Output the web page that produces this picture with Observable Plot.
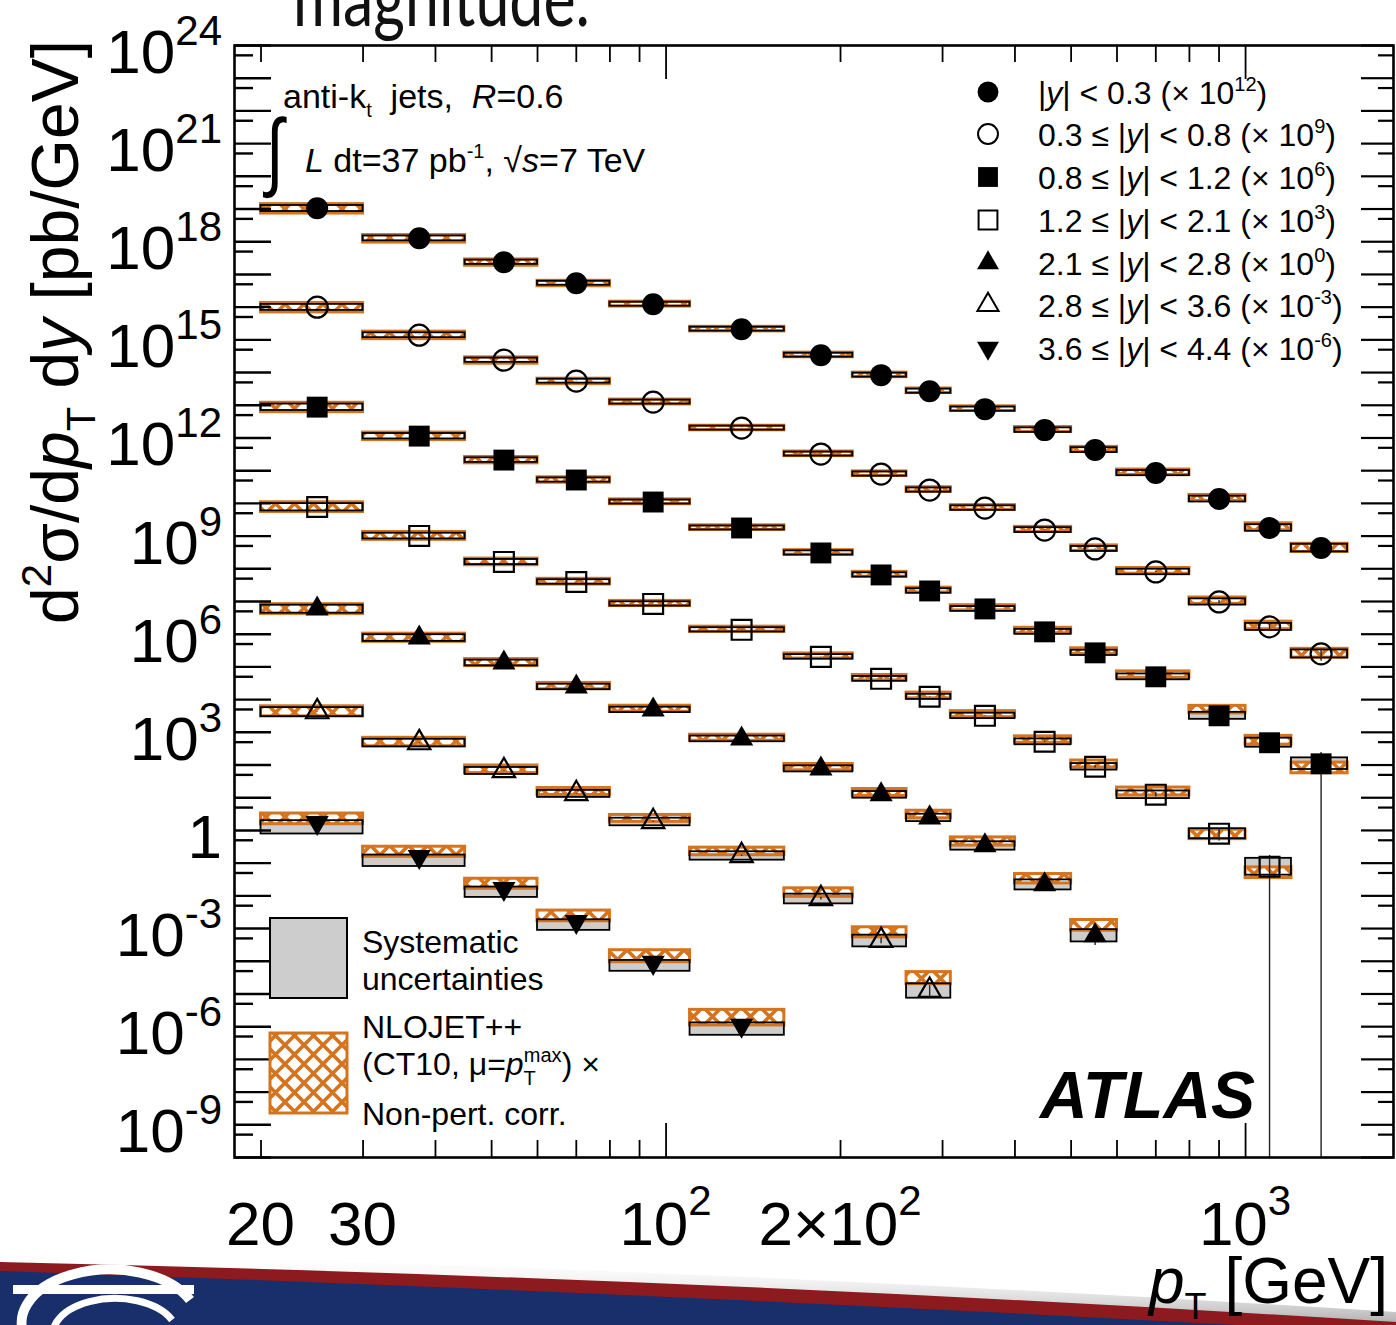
<!DOCTYPE html>
<html>
<head>
<meta charset="utf-8">
<script src="https://cdn.jsdelivr.net/npm/d3@7"></script>
<script src="https://cdn.jsdelivr.net/npm/@observablehq/plot@0.6"></script>
<style>
  html, body { margin: 0; padding: 0; background: #fff; }
  #chart { position: relative; width: 1396px; height: 1325px; overflow: hidden; }
  #chart svg { display: block; font-family: "Liberation Sans", Arial, Helvetica, sans-serif; }
</style>
</head>
<body>
<div id="chart"></div>
<script>
// ---- jet pT bins [GeV] ----
const binLow  = [20, 30, 45, 60, 80, 110, 160, 210, 260, 310, 400, 500, 600, 800, 1000, 1200];
const binHigh = [30, 45, 60, 80, 110, 160, 210, 260, 310, 400, 500, 600, 800, 1000, 1200, 1500];

// ---- rapidity slices, plotting offsets ----
const sliceRange   = [["", "0.3"], ["0.3", "0.8"], ["0.8", "1.2"], ["1.2", "2.1"], ["2.1", "2.8"], ["2.8", "3.6"], ["3.6", "4.4"]];
const sliceExp     = [12, 9, 6, 3, 0, -3, -6];

// ---- measured d2sigma/dpT dy [pb/GeV] per slice (unscaled) ----
const xsY00 = [1.05e7, 1.27e6, 2.36e5, 5.38e4, 1.23e4, 2.12e3, 340, 83.4, 27.0, 7.62, 1.74, 0.427, 0.0845, 0.0136, 1.77e-3, 4.33e-4];
const xsY03 = [9.95e6, 1.39e6, 2.39e5, 5.46e4, 1.25e4, 2.0e3, 322, 78.9, 25.6, 7.21, 1.53, 0.404, 0.0802, 9.7e-3, 1.67e-3, 2.5e-4];
const xsY08 = [8.77e6, 1.14e6, 2.11e5, 5.18e4, 1.10e4, 1.77e3, 305, 64.9, 21.0, 5.93, 1.18, 0.269, 0.0498, 3.2e-3, 4.8e-4, 1.09e-4];
const xsY12 = [7.74e6, 1.01e6, 1.62e5, 3.96e4, 8.43e3, 1.36e3, 203, 43.2, 12.2, 3.2, 0.514, 0.0887, 0.0124, 7.96e-4, 7.8e-5];
const xsY21 = [5.93e6, 7.73e5, 1.33e5, 2.46e4, 4.89e3, 635, 76.9, 12.4, 2.45, 0.342, 0.022, 6.1e-4];
const xsY28 = [4.24e6, 4.79e5, 6.68e4, 1.33e4, 1.85e3, 169, 8.24, 0.43, 0.0128];
const xsY36 = [1.73e6, 1.58e5, 1.66e4, 1.63e3, 91.4, 1.09];

// ---- relative statistical uncertainties ----
const statY00 = [0.01, 0.01, 0.01, 0.01, 0.01, 0.01, 0.01, 0.01, 0.01, 0.01, 0.01, 0.02, 0.03, 0.08, 0.2, 0.3];
const statY03 = [0.01, 0.01, 0.01, 0.01, 0.01, 0.01, 0.01, 0.01, 0.01, 0.01, 0.02, 0.02, 0.04, 0.1, 0.25, 0.4];
const statY08 = [0.01, 0.01, 0.01, 0.01, 0.01, 0.01, 0.01, 0.01, 0.01, 0.02, 0.02, 0.03, 0.06, 0.2, 0.5, 1.2];
const statY12 = [0.01, 0.01, 0.01, 0.01, 0.01, 0.01, 0.01, 0.02, 0.02, 0.02, 0.04, 0.08, 0.15, 0.4, 1.2];
const statY21 = [0.01, 0.01, 0.01, 0.01, 0.01, 0.02, 0.03, 0.05, 0.08, 0.1, 0.2, 0.5];
const statY28 = [0.02, 0.02, 0.02, 0.02, 0.03, 0.05, 0.1, 0.2, 0.4];
const statY36 = [0.03, 0.03, 0.04, 0.05, 0.1, 0.3];

// ---- relative systematic uncertainties (up / down) ----
const sysUpY00 = [0.22, 0.18, 0.16, 0.15, 0.15, 0.15, 0.15, 0.15, 0.16, 0.16, 0.17, 0.18, 0.20, 0.22, 0.26, 0.30];
const sysDnY00 = [0.20, 0.16, 0.14, 0.13, 0.13, 0.13, 0.13, 0.13, 0.14, 0.14, 0.15, 0.16, 0.17, 0.19, 0.21, 0.24];
const sysUpY03 = [0.22, 0.18, 0.16, 0.15, 0.15, 0.15, 0.15, 0.16, 0.16, 0.17, 0.18, 0.19, 0.21, 0.24, 0.28, 0.32];
const sysDnY03 = [0.20, 0.16, 0.14, 0.13, 0.13, 0.13, 0.13, 0.14, 0.14, 0.15, 0.16, 0.16, 0.18, 0.20, 0.22, 0.25];
const sysUpY08 = [0.24, 0.20, 0.17, 0.16, 0.15, 0.15, 0.16, 0.16, 0.17, 0.18, 0.19, 0.20, 0.22, 0.28, 0.38, 0.52];
const sysDnY08 = [0.21, 0.18, 0.15, 0.14, 0.13, 0.13, 0.14, 0.14, 0.15, 0.16, 0.16, 0.17, 0.19, 0.22, 0.27, 0.33];
const sysUpY12 = [0.27, 0.21, 0.19, 0.17, 0.16, 0.16, 0.17, 0.18, 0.19, 0.20, 0.22, 0.25, 0.30, 0.42, 0.80];
const sysDnY12 = [0.24, 0.19, 0.17, 0.15, 0.14, 0.14, 0.15, 0.16, 0.17, 0.18, 0.19, 0.21, 0.24, 0.30, 0.45];
const sysUpY21 = [0.30, 0.25, 0.21, 0.20, 0.20, 0.21, 0.23, 0.25, 0.28, 0.32, 0.40, 0.52];
const sysDnY21 = [0.26, 0.22, 0.19, 0.18, 0.18, 0.19, 0.20, 0.22, 0.24, 0.27, 0.31, 0.36];
const sysUpY28 = [0.34, 0.28, 0.26, 0.26, 0.28, 0.32, 0.37, 0.46, 0.60];
const sysDnY28 = [0.29, 0.25, 0.23, 0.23, 0.25, 0.27, 0.31, 0.36, 0.42];
const sysUpY36 = [0.15, 0.12, 0.12, 0.14, 0.16, 0.20];
const sysDnY36 = [0.55, 0.50, 0.46, 0.46, 0.46, 0.50];

// ---- NLOJET++ (CT10) x non-perturbative correction: ratio to data and relative uncertainty ----
const thRatioY00 = [1.02, 1.00, 1.00, 1.00, 1.02, 1.02, 1.03, 1.03, 1.04, 1.05, 1.06, 1.06, 1.08, 1.10, 1.12, 1.05];
const thUncY00   = [0.32, 0.26, 0.22, 0.19, 0.17, 0.16, 0.16, 0.16, 0.16, 0.16, 0.17, 0.18, 0.19, 0.21, 0.24, 0.28];
const thRatioY03 = [1.02, 1.02, 1.00, 1.00, 1.02, 1.02, 1.03, 1.04, 1.05, 1.05, 1.06, 1.08, 1.10, 1.12, 1.15, 1.10];
const thUncY03   = [0.32, 0.26, 0.22, 0.19, 0.17, 0.16, 0.16, 0.16, 0.16, 0.17, 0.18, 0.19, 0.20, 0.22, 0.26, 0.30];
const thRatioY08 = [1.03, 1.02, 1.02, 1.02, 1.03, 1.04, 1.05, 1.06, 1.08, 1.10, 1.12, 1.15, 1.20, 1.60, 1.25, 0.80];
const thUncY08   = [0.32, 0.26, 0.22, 0.19, 0.17, 0.16, 0.16, 0.17, 0.17, 0.18, 0.19, 0.20, 0.22, 0.26, 0.30, 0.36];
const thRatioY12 = [1.05, 1.04, 1.03, 1.04, 1.05, 1.06, 1.08, 1.10, 1.12, 1.15, 1.20, 1.25, 1.30, 1.00, 0.70];
const thUncY12   = [0.33, 0.27, 0.23, 0.20, 0.18, 0.18, 0.18, 0.19, 0.20, 0.21, 0.22, 0.24, 0.27, 0.32, 0.36];
const thRatioY21 = [1.05, 1.05, 1.05, 1.08, 1.10, 1.10, 1.15, 1.20, 1.30, 1.40, 1.60, 2.20];
const thUncY21   = [0.33, 0.28, 0.24, 0.22, 0.21, 0.21, 0.22, 0.24, 0.26, 0.28, 0.32, 0.36];
const thRatioY28 = [1.10, 1.10, 1.15, 1.20, 1.30, 1.40, 1.60, 1.90, 2.60];
const thUncY28   = [0.34, 0.29, 0.26, 0.24, 0.24, 0.26, 0.29, 0.34, 0.40];
const thRatioY36 = [1.40, 1.50, 1.50, 1.60, 1.70, 2.00];
const thUncY36   = [0.36, 0.34, 0.34, 0.36, 0.40, 0.50];

// ---- axis ticks ----
const yDecades   = d3.range(-10, 25).map(e => Math.pow(10, e));      // long ticks
const yHalfTicks = d3.range(-9, 25).map(e => 5 * Math.pow(10, e - 1)); // short ticks
const yLabelExps = [24, 21, 18, 15, 12, 9, 6, 3, 0, -3, -6, -9];
const xMajorTicks = [100, 1000];
const xMinorTicks = [20, 30, 40, 50, 60, 70, 80, 90, 200, 300, 400, 500, 600, 700, 800, 900];
const xTickLabels = [
  {v: 20, parts: [{t: "20"}]},
  {v: 30, parts: [{t: "30"}]},
  {v: 100, parts: [{t: "10"}, {t: "2", sup: true}]},
  {v: 200, parts: [{t: "2×10"}, {t: "2", sup: true}]},
  {v: 1000, parts: [{t: "10"}, {t: "3", sup: true}]}
];

// ---- styles ----
const ORANGE = "#d5741f";
const GREY = "#cdcdcd";

// marker symbols
const triangleDown = {
  draw(context, size) {
    const y = -Math.sqrt(size / (3 * Math.sqrt(3)));
    context.moveTo(0, -y * 2);
    context.lineTo(-Math.sqrt(3) * y, y);
    context.lineTo(Math.sqrt(3) * y, y);
    context.closePath();
  }
};
const markerStyles = [
  {symbol: d3.symbolCircle,   r: 11,   fill: "black", stroke: "none"},
  {symbol: d3.symbolCircle,   r: 10.5, fill: "none",  stroke: "black"},
  {symbol: d3.symbolSquare,   r: 11.8, fill: "black", stroke: "none"},
  {symbol: d3.symbolSquare,   r: 11.2, fill: "none",  stroke: "black"},
  {symbol: d3.symbolTriangle, r: 8.6,  fill: "black", stroke: "none"},
  {symbol: d3.symbolTriangle, r: 8.3,  fill: "none",  stroke: "black"},
  {symbol: triangleDown,      r: 8.6,  fill: "black", stroke: "none"}
];

// ---- build rows ----
const xsAll   = [xsY00, xsY03, xsY08, xsY12, xsY21, xsY28, xsY36];
const statAll = [statY00, statY03, statY08, statY12, statY21, statY28, statY36];
const sysUpAll = [sysUpY00, sysUpY03, sysUpY08, sysUpY12, sysUpY21, sysUpY28, sysUpY36];
const sysDnAll = [sysDnY00, sysDnY03, sysDnY08, sysDnY12, sysDnY21, sysDnY28, sysDnY36];
const thRAll  = [thRatioY00, thRatioY03, thRatioY08, thRatioY12, thRatioY21, thRatioY28, thRatioY36];
const thUAll  = [thUncY00, thUncY03, thUncY08, thUncY12, thUncY21, thUncY28, thUncY36];

const Y_MIN = 1e-10, Y_MAX = 1e24;
const rows = [];
xsAll.forEach((xs, s) => {
  const f = Math.pow(10, sliceExp[s]);
  xs.forEach((val, i) => {
    const v = val * f;
    const th = v * thRAll[s][i];
    rows.push({
      slice: s,
      lo: binLow[i], hi: binHigh[i], xc: (binLow[i] + binHigh[i]) / 2,
      v,
      sysLo: v * (1 - sysDnAll[s][i]), sysHi: v * (1 + sysUpAll[s][i]),
      thLo: th * (1 - thUAll[s][i]), thHi: th * (1 + thUAll[s][i]),
      statLo: Math.max(v * (1 - statAll[s][i]), Y_MIN), statHi: v * (1 + statAll[s][i])
    });
  });
});

// ---- layout ----
const W = 1396, H = 1325;
const M = {top: 45, right: 3, bottom: 168, left: 234};
const FW = W - M.left - M.right, FH = H - M.top - M.bottom;

const dotMarks = markerStyles.map((m, s) => Plot.dot(rows.filter(d => d.slice === s), {
  x: "xc", y: "v", symbol: m.symbol, r: m.r,
  fill: m.fill, stroke: m.stroke, strokeWidth: m.stroke === "none" ? 0 : 2.2
}));

const plot = Plot.plot({
  width: W, height: H,
  marginTop: M.top, marginRight: M.right, marginBottom: M.bottom, marginLeft: M.left,
  x: {type: "log", domain: [18, 1800], axis: null},
  y: {type: "log", domain: [Y_MIN, Y_MAX], axis: null},
  style: {background: "transparent", overflow: "visible"},
  marks: [
    // systematic boxes (fill)
    Plot.rect(rows, {x1: "lo", x2: "hi", y1: "sysLo", y2: "sysHi", fill: GREY}),
    // theory band, cross-hatched on white
    Plot.rect(rows, {x1: "lo", x2: "hi", y1: "thLo", y2: "thHi", fill: "url(#nlo-hatch)", stroke: ORANGE, strokeWidth: 3}),
    // systematic boxes (outline)
    Plot.rect(rows, {x1: "lo", x2: "hi", y1: "sysLo", y2: "sysHi", fill: "none", stroke: "black", strokeWidth: 1.8}),
    // statistical error bars
    Plot.ruleX(rows, {x: "xc", y1: "statLo", y2: "statHi", stroke: "#222", strokeWidth: 1.4}),
    ...dotMarks,
    // ticks: left / right
    Plot.ruleY(yDecades,   {y: d => d, insetRight: FW - 37, stroke: "black", strokeWidth: 2.4}),
    Plot.ruleY(yHalfTicks, {y: d => d, insetRight: FW - 19, stroke: "black", strokeWidth: 2.4}),
    Plot.ruleY(yDecades,   {y: d => d, insetLeft: FW - 32, stroke: "black", strokeWidth: 2.2}),
    Plot.ruleY(yHalfTicks, {y: d => d, insetLeft: FW - 15, stroke: "black", strokeWidth: 2.2}),
    // ticks: bottom / top
    Plot.ruleX(xMajorTicks, {x: d => d, insetTop: FH - 34, stroke: "black", strokeWidth: 1.8}),
    Plot.ruleX(xMinorTicks, {x: d => d, insetTop: FH - 17, stroke: "black", strokeWidth: 1.8}),
    Plot.ruleX(xMajorTicks, {x: d => d, insetBottom: FH - 34, stroke: "black", strokeWidth: 1.8}),
    Plot.ruleX(xMinorTicks, {x: d => d, insetBottom: FH - 17, stroke: "black", strokeWidth: 1.8}),
    Plot.frame({stroke: "black", strokeWidth: 2.6})
  ]
});

const svg = d3.select(plot);
const sx = plot.scale("x"), sy = plot.scale("y");

// hatch pattern for the theory band (orange cross-hatch on white)
const defs = svg.insert("defs", ":first-child");
const pat = defs.append("pattern").attr("id", "nlo-hatch").attr("patternUnits", "userSpaceOnUse")
  .attr("width", 19).attr("height", 19);
pat.append("rect").attr("width", 19).attr("height", 19).attr("fill", "#fff");
pat.append("path").attr("d", "M-1,-1 L20,20 M-1,20 L20,-1 M-10,9.5 L9.5,-10 M9.5,29 L29,9.5 M-10,9.5 L9.5,29 M9.5,-10 L29,9.5")
  .attr("stroke", ORANGE).attr("stroke-width", 3.6).attr("fill", "none");

// rich text helper (italic / superscript / subscript runs)
function rich(g, x, y, parts, size, anchor = "start", extra = {}) {
  const t = g.append("text").attr("x", x).attr("y", y).attr("font-size", size)
    .attr("text-anchor", anchor).attr("fill", "black").style("white-space", "pre");
  for (const [k, v] of Object.entries(extra)) t.attr(k, v);
  let shift = 0;
  for (const p of parts) {
    const ts = t.append("tspan").text(p.t);
    let target = 0;
    if (p.sup) { target = -(p.rise ?? size * 0.45); ts.attr("font-size", p.size ?? size * 0.65); }
    if (p.sub) { target = (p.drop ?? size * 0.25); ts.attr("font-size", p.size ?? size * 0.65); }
    if (p.size && !p.sup && !p.sub) ts.attr("font-size", p.size);
    if (target !== shift) { ts.attr("dy", target - shift); shift = target; }
    if (p.dx) ts.attr("dx", p.dx);
    if (p.i) ts.attr("font-style", "italic");
    if (p.b) ts.attr("font-weight", "bold");
  }
  return t;
}

// background decoration (slide banner) behind everything
const bg = svg.insert("g", "defs + *");
const grad = defs.append("linearGradient").attr("id", "banner-shadow").attr("x1", 0).attr("y1", 0).attr("x2", 0).attr("y2", 1);
grad.append("stop").attr("offset", 0).attr("stop-color", "#fff").attr("stop-opacity", 0);
grad.append("stop").attr("offset", 1).attr("stop-color", "#777").attr("stop-opacity", 0.7);
bg.append("path").attr("d", "M0,1252 Q700,1268 1396,1312 L1396,1330 Q700,1286 0,1264 Z").attr("fill", "url(#banner-shadow)");
bg.append("path").attr("d", "M0,1262 Q700,1278 1396,1322 L1396,1340 Q700,1296 0,1272 Z").attr("fill", "#8c1a1f");
bg.append("path").attr("d", "M0,1271 Q700,1294 1396,1334 L1396,1345 L0,1345 Z").attr("fill", "#182f6c");
bg.append("rect").attr("x", 13).attr("y", 1285).attr("width", 181).attr("height", 60).attr("fill", "#fff");
bg.append("rect").attr("x", 13).attr("y", 1294).attr("width", 181).attr("height", 50).attr("fill", "#182f6c");
bg.append("path").attr("d", "M30,1345 A80,48 0 0 1 190,1300").attr("stroke", "#fff").attr("stroke-width", 10).attr("fill", "none");
bg.append("path").attr("d", "M58,1350 A58,34 0 0 1 172,1320").attr("stroke", "#fff").attr("stroke-width", 7).attr("fill", "none");

svg.append("text").attr("x", 293).attr("y", 26).attr("font-size", 78)
  .attr("font-family", "Lato, 'Open Sans', sans-serif").attr("text-anchor", "start")
  .attr("textLength", 297).attr("lengthAdjust", "spacingAndGlyphs")
  .attr("fill", "#111").text("magnitude.");

const ann = svg.append("g");

// y tick labels
for (const e of yLabelExps) {
  const y = sy.apply(Math.pow(10, e)) + 28;
  if (e === 0) rich(ann, 222, y, [{t: "1"}], 62, "end");
  else rich(ann, 222, y, [{t: "10"}, {t: String(e), sup: true, size: 42, rise: 28}], 62, "end");
}
// x tick labels
for (const l of xTickLabels) {
  rich(ann, sx.apply(l.v), 1245, l.parts.map(p => p.sup ? {...p, size: 42, rise: 30} : p), 62, "middle");
}
// axis titles
rich(ann, 1388, 1303, [{t: "p", i: true}, {t: "T", sub: true, size: 36, drop: 16}, {t: " [GeV]"}], 64, "end");
rich(ann, 0, 0, [{t: "d"}, {t: "2", sup: true, size: 42, rise: 27}, {t: "σ/d"}, {t: "p", i: true},
  {t: "T", sub: true, size: 40, drop: 17}, {t: " d"}, {t: "y", i: true}, {t: " [pb/GeV]"}], 66, "end",
  {transform: "translate(78,40) rotate(-90)"});

// top-left label
rich(ann, 283, 108, [{t: "anti-k"}, {t: "t", sub: true, size: 20, drop: 9}, {t: "  jets,  "}, {t: "R", i: true}, {t: "=0.6"}], 34);
ann.append("text").attr("text-anchor", "start").attr("font-size", 64)
  .attr("transform", "translate(266,180) scale(1,1.35)").text("∫");
rich(ann, 305, 172, [{t: "L", i: true}, {t: " dt=37 pb"}, {t: "-1", sup: true, size: 20, rise: 14}, {t: ", √"}, {t: "s", i: true}, {t: "=7 TeV"}], 34);

// slice legend (top right)
const legRowY = [92, 134, 177, 220, 263, 305, 348];
sliceRange.forEach((r, s) => {
  const m = markerStyles[s];
  const yy = legRowY[s];
  ann.append("path").attr("transform", `translate(988,${yy})`)
    .attr("d", d3.symbol(m.symbol, Math.PI * m.r * m.r * 0.9)())
    .attr("fill", m.fill).attr("stroke", m.stroke === "none" ? null : m.stroke).attr("stroke-width", 2);
  const parts = [];
  if (r[0]) parts.push({t: r[0] + " ≤ "});
  parts.push({t: "|"}, {t: "y", i: true}, {t: "| < " + r[1] + " (× 10"}, {t: String(sliceExp[s]), sup: true, size: 20, rise: 13}, {t: ")"});
  rich(ann, 1038, yy + 12, parts, 32);
});

// uncertainty legend (bottom left)
ann.append("rect").attr("x", 270).attr("y", 918).attr("width", 77).attr("height", 80)
  .attr("fill", GREY).attr("stroke", "black").attr("stroke-width", 2);
ann.append("rect").attr("x", 270).attr("y", 1033).attr("width", 77).attr("height", 80)
  .attr("fill", "url(#nlo-hatch)").attr("stroke", ORANGE).attr("stroke-width", 3);
rich(ann, 362, 953, [{t: "Systematic"}], 32);
rich(ann, 362, 990, [{t: "uncertainties"}], 32);
rich(ann, 362, 1038, [{t: "NLOJET++"}], 32);
rich(ann, 362, 1075, [{t: "(CT10, μ="}, {t: "p", i: true}, {t: "T", sub: true, size: 20, drop: 10},
  {t: "max", sup: true, size: 20, rise: 13, dx: -12}, {t: ") ×"}], 32);
rich(ann, 362, 1125, [{t: "Non-pert. corr."}], 32);

// experiment label
ann.append("text").attr("x", 1040).attr("y", 1118).attr("font-size", 66).attr("text-anchor", "start")
  .attr("font-weight", "bold").attr("font-style", "italic").text("ATLAS");

document.getElementById("chart").appendChild(plot);
</script>
</body>
</html>
